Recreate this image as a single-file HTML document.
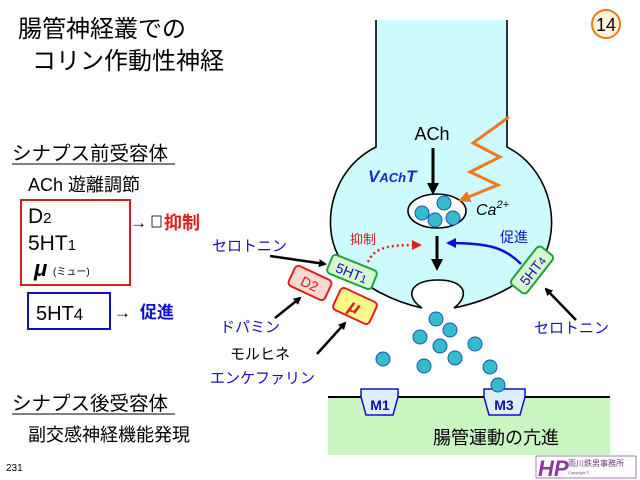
<!DOCTYPE html><html><head><meta charset="utf-8"><style>body{margin:0;background:#fff}svg{display:block}text{font-family:"Liberation Sans","Noto Sans CJK JP",sans-serif}</style></head><body>
<svg width="640" height="480" viewBox="0 0 640 480">
<defs>
<marker id="ab" markerWidth="8" markerHeight="8" refX="6" refY="4" orient="auto" markerUnits="userSpaceOnUse"><path d="M0,0L8,4L0,8z" fill="#000"/></marker>
<marker id="abig" markerWidth="12" markerHeight="12" refX="9" refY="6" orient="auto" markerUnits="userSpaceOnUse"><path d="M0,0L12,6L0,12z" fill="#000"/></marker>
<marker id="ar" markerWidth="10" markerHeight="10" refX="8" refY="5" orient="auto" markerUnits="userSpaceOnUse"><path d="M0,0L10,5L0,10z" fill="#e02020"/></marker>
<marker id="abl" markerWidth="10" markerHeight="10" refX="8" refY="5" orient="auto" markerUnits="userSpaceOnUse"><path d="M0,0L10,5L0,10z" fill="#1010d0"/></marker>
<marker id="ao" markerWidth="12" markerHeight="12" refX="9" refY="6" orient="auto" markerUnits="userSpaceOnUse"><path d="M0,0L12,6L0,12z" fill="#f07820"/></marker>
</defs>
<text x="18" y="37" font-size="24">腸管神経叢での</text>
<text x="32" y="69" font-size="24">コリン作動性神経</text>
<circle cx="606" cy="24" r="14" fill="#fff3dc" stroke="#e87a1c" stroke-width="2"/>
<text x="606" y="31" font-size="18" text-anchor="middle">14</text>
<text x="12" y="160" font-size="19.5">シナプス前受容体</text>
<line x1="12" y1="164" x2="175" y2="164" stroke="#000"/>
<text x="28" y="191" font-size="18">ACh 遊離調節</text>
<rect x="21" y="200" width="109" height="85" fill="none" stroke="#d02020" stroke-width="2"/>
<text x="28" y="223" font-size="21">D<tspan font-size="15">2</tspan></text>
<text x="28" y="250" font-size="21">5HT<tspan font-size="15">1</tspan></text>
<text x="34" y="276" font-size="22" font-style="italic" font-weight="bold">μ</text>
<text x="53" y="275" font-size="10">(ミュー)</text>
<text x="130" y="228" font-size="17">→</text>
<rect x="152" y="216" width="9" height="11" fill="none" stroke="#000" stroke-width="0.8"/>
<text x="164" y="229" font-size="18" fill="#e02020" font-weight="bold">抑制</text>
<rect x="28" y="293" width="82" height="36" fill="none" stroke="#1010c0" stroke-width="2"/>
<text x="36" y="320" font-size="20">5HT<tspan font-size="17">4</tspan></text>
<text x="114" y="318" font-size="17">→</text>
<text x="140" y="318" font-size="17" fill="#1010d0" font-weight="bold">促進</text>
<text x="12" y="410" font-size="19.5">シナプス後受容体</text>
<line x1="12" y1="414" x2="175" y2="414" stroke="#000"/>
<text x="28" y="441" font-size="18">副交感神経機能発現</text>
<text x="6" y="471" font-size="10">231</text>
<path d="M376,20 V147 C330,170 322,225 338,255 C355,285 395,302 422,308 C404,296 410,280 438,280 C466,280 470,296 454,308 C492,300 530,282 546,252 C560,218 548,168 507,147 V20 Z" fill="#cdfafd" stroke="none"/>
<path d="M376,20 V147 C330,170 322,225 338,255 C355,285 395,302 422,308 C404,296 410,280 438,280 C466,280 470,296 454,308 C492,300 530,282 546,252 C560,218 548,168 507,147 V20" fill="none" stroke="#000" stroke-width="1.6"/>
<text x="432" y="140" font-size="18" text-anchor="middle">ACh</text>
<line x1="433" y1="148" x2="433" y2="192" stroke="#000" stroke-width="3" marker-end="url(#abig)"/>
<text x="368" y="182" font-size="17" font-style="italic" font-weight="bold" fill="#1a28c8">V<tspan font-size="13">ACh</tspan>T</text>
<ellipse cx="437" cy="211" rx="29" ry="17" fill="#fff" stroke="#000" stroke-width="1.6"/>
<g fill="#33bccc" stroke="#1a50c0" stroke-width="1">
<circle cx="422" cy="213" r="7"/><circle cx="444" cy="203" r="7"/><circle cx="435" cy="220" r="7"/><circle cx="453" cy="218" r="7"/>
</g>
<polyline points="509,117 473,143 500,157 470,172 498,185 461,200" fill="none" stroke="#f07820" stroke-width="3" marker-end="url(#ao)"/>
<text x="476" y="215" font-size="16" font-style="italic">Ca<tspan font-size="11" dy="-7">2+</tspan></text>
<line x1="437" y1="236" x2="437" y2="268" stroke="#000" stroke-width="3" marker-end="url(#abig)"/>
<text x="350" y="244" font-size="13" fill="#c02020">抑制</text>
<path d="M368,262 C375,245 395,245 420,245" fill="none" stroke="#e02020" stroke-width="2.5" stroke-dasharray="2,3" marker-end="url(#ar)"/>
<text x="500" y="242" font-size="14" fill="#1010c0">促進</text>
<path d="M521,264 C505,248 490,243 448,243" fill="none" stroke="#1010d0" stroke-width="2.5" marker-end="url(#abl)"/>
<g transform="translate(352,272) rotate(22)"><rect x="-24" y="-10" width="48" height="20" rx="4" fill="#d8f8d0" stroke="#20a040" stroke-width="2"/><text x="0" y="6" font-size="14" text-anchor="middle" fill="#1010c0">5HT<tspan font-size="11">1</tspan></text></g>
<g transform="translate(532,270) rotate(-52)"><rect x="-24" y="-10" width="48" height="20" rx="4" fill="#d8f8d0" stroke="#20a040" stroke-width="2"/><text x="0" y="6" font-size="14" text-anchor="middle" fill="#1010c0">5HT<tspan font-size="11">4</tspan></text></g>
<g transform="translate(310,283) rotate(25)"><rect x="-20" y="-11" width="40" height="22" rx="4" fill="#fcd8d0" stroke="#e02020" stroke-width="2"/><text x="0" y="6" font-size="14" text-anchor="middle" fill="#d02020">D2</text></g>
<g transform="translate(355,306) rotate(25)"><rect x="-20" y="-12" width="40" height="24" rx="4" fill="#fff68a" stroke="#e02020" stroke-width="2"/><text x="0" y="7" font-size="18" text-anchor="middle" fill="#d02020" font-style="italic" font-weight="bold">μ</text></g>
<text x="212" y="251" font-size="15" fill="#1010c0">セロトニン</text>
<line x1="270" y1="256" x2="325" y2="264" stroke="#000" stroke-width="2.5" marker-end="url(#ab)"/>
<text x="220" y="332" font-size="15" fill="#1010c0">ドパミン</text>
<line x1="275" y1="318" x2="300" y2="298" stroke="#000" stroke-width="2.5" marker-end="url(#ab)"/>
<text x="230" y="359" font-size="15">モルヒネ</text>
<text x="210" y="383" font-size="15" fill="#1010c0">エンケファリン</text>
<line x1="317" y1="354" x2="345" y2="323" stroke="#000" stroke-width="2.5" marker-end="url(#ab)"/>
<text x="534" y="333" font-size="15" fill="#1010c0">セロトニン</text>
<line x1="576" y1="320" x2="546" y2="289" stroke="#000" stroke-width="2.5" marker-end="url(#ab)"/>
<g fill="#33bccc" stroke="#1a50c0" stroke-width="1">
<circle cx="436" cy="319" r="7"/><circle cx="450" cy="330" r="7"/><circle cx="420" cy="337" r="7"/><circle cx="440" cy="346" r="7"/><circle cx="475" cy="344" r="7"/><circle cx="383" cy="359" r="7"/><circle cx="455" cy="358" r="7"/><circle cx="424" cy="366" r="7"/><circle cx="490" cy="367" r="7"/>
</g>
<rect x="328" y="397" width="282" height="58" fill="#c9f5c1"/>
<line x1="328" y1="397" x2="610" y2="397" stroke="#000" stroke-width="2"/>
<path d="M361,389 H398 V397 L393,415 H366 L361,397 Z" fill="#ddeeff" stroke="#1010c0" stroke-width="1.5"/>
<text x="380" y="410" font-size="14" font-weight="bold" fill="#1010a0" text-anchor="middle">M1</text>
<path d="M484,389 H525 V397 L520,415 H489 L484,397 Z" fill="#ddeeff" stroke="#1010c0" stroke-width="1.5"/>
<text x="504" y="410" font-size="14" font-weight="bold" fill="#1010a0" text-anchor="middle">M3</text>
<circle cx="498" cy="385" r="7" fill="#33bccc" stroke="#1a50c0"/>
<text x="433" y="444" font-size="18">腸管運動の亢進</text>
<rect x="536" y="456" width="100" height="22" fill="#fff" stroke="#9060a0" stroke-width="0.8"/>
<text x="538" y="476" font-size="22" font-weight="bold" font-style="italic" fill="#8a3a9a">HP</text>
<text x="568" y="466" font-size="8" fill="#6a3a7a">雨川鉄男事務所</text>
<text x="568" y="474" font-size="4" fill="#6a3a7a">Copyright ©</text>
</svg></body></html>
